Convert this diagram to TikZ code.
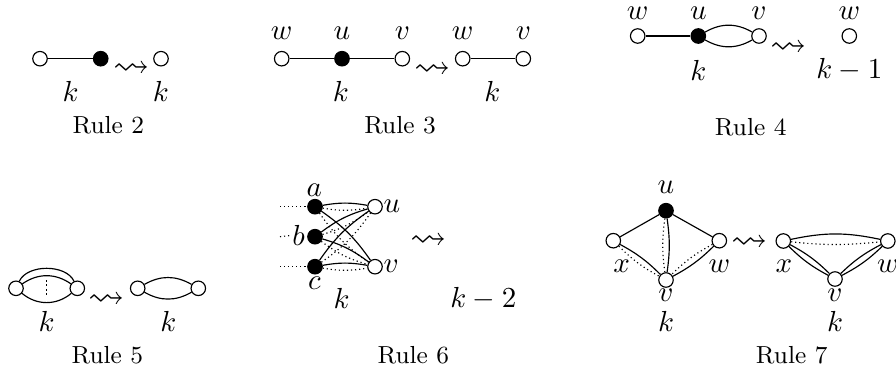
\documentclass[tikz,border=0pt]{standalone}
\usepackage{amssymb}
\usepackage{graphicx}
\newcommand{\sqarr}{\scalebox{1.25}{$\rightsquigarrow$}}
\begin{document}
\begin{tikzpicture}[x=0.3448pt,y=-0.3448pt,
  vtx/.style={circle,draw,fill=white,minimum size=5pt,inner sep=0pt},
  fvtx/.style={vtx,fill=black},
  lbl/.style={inner sep=0pt},
  rcap/.style={inner sep=0pt,font=\fontsize{8.5}{10}\selectfont},
  arr/.style={inner sep=0pt},
  dotl/.style={densely dotted}]
\useasboundingbox (0,0) rectangle (896,370);
% ---------------- Rule 2
\node[vtx] (r2a) at (40,58.7) {};
\node[fvtx] (r2b) at (100.7,58.7) {};
\node[vtx] (r2c) at (161,58.7) {};
\draw (r2a) -- (r2b);
\node[arr] (r2s) at (132,69.5) {\sqarr};
\node[lbl] (r2k1) at (70.7,91.7) {$k$};
\node[lbl] (r2k2) at (161,91.7) {$k$};
\node[rcap] (r2t) at (108.3,125) {Rule 2};
% ---------------- Rule 3
\node[vtx] (r3w) at (281.7,58.7) {};
\node[fvtx] (r3u) at (342,58.7) {};
\node[vtx] (r3v) at (402.3,58.7) {};
\node[vtx] (r3w2) at (462.7,58.7) {};
\node[vtx] (r3v2) at (523.3,58.7) {};
\draw (r3w) -- (r3u) -- (r3v);
\draw (r3w2) -- (r3v2);
\node[lbl] (r3lw) at (281.7,33.3) {$w$};
\node[lbl] (r3lu) at (342,33.3) {$u$};
\node[lbl] (r3lv) at (402.3,33.3) {$v$};
\node[lbl] (r3lw2) at (462.7,33.3) {$w$};
\node[lbl] (r3lv2) at (523.3,33.3) {$v$};
\node[arr] (r3s) at (433,70.5) {\sqarr};
\node[lbl] (r3k1) at (341,91.7) {$k$};
\node[lbl] (r3k2) at (492.3,91.7) {$k$};
\node[rcap] (r3t) at (400,125) {Rule 3};
% ---------------- Rule 4
\node[vtx] (r4w) at (637.7,36) {};
\node[fvtx] (r4u) at (698.3,36) {};
\node[vtx] (r4v) at (759,36) {};
\node[vtx] (r4w2) at (849.3,36) {};
\draw (r4w) -- (r4u);
\draw (r4u) to[out=30,in=150] (r4v);
\draw (r4u) to[out=-30,in=-150] (r4v);
\node[lbl] (r4lw) at (637.7,13.3) {$w$};
\node[lbl] (r4lu) at (698.3,13.3) {$u$};
\node[lbl] (r4lv) at (759,13.3) {$v$};
\node[lbl] (r4lw2) at (849.3,13.3) {$w$};
\node[arr] (r4s) at (789,49) {\sqarr};
\node[lbl] (r4k1) at (698.3,70) {$k$};
\node[lbl] (r4k2) at (849.3,70) {$k-1$};
\node[rcap] (r4t) at (750.7,127) {Rule 4};
% ---------------- Rule 5
\node[vtx] (r5a) at (16,288.3) {};
\node[vtx] (r5b) at (77.3,288.3) {};
\draw (r5a) to[out=65,in=115,looseness=0.89] (r5b);
\draw (r5a) to[out=35,in=145] (r5b);
\draw (r5a) to[out=-40,in=-140] (r5b);
\draw[dotl,line width=0.55pt] (46.7,280) -- (46.7,297);
\node[arr] (r5s) at (107,300.5) {\sqarr};
\node[vtx] (r5c) at (137.7,288.3) {};
\node[vtx] (r5d) at (198.3,288.3) {};
\draw (r5c) to[out=30,in=150] (r5d);
\draw (r5c) to[out=-30,in=-150] (r5d);
\node[lbl] (r5k1) at (46.7,321.7) {$k$};
\node[lbl] (r5k2) at (168.3,321.7) {$k$};
\node[rcap] (r5t) at (107.3,355) {Rule 5};
% ---------------- Rule 6
\node[fvtx] (r6a) at (315,206.7) {};
\node[fvtx] (r6b) at (315,236.7) {};
\node[fvtx] (r6c) at (315,266.7) {};
\node[vtx] (r6u) at (375,206.7) {};
\node[vtx] (r6v) at (375,266.7) {};
\foreach \p in {a,b,c}{
  \foreach \q in {u,v}{
    \draw (r6\p) to[bend left=10] (r6\q);
    \draw[dotl] (r6\p) to[bend right=10] (r6\q);
  }
}
\node[lbl] (r6la) at (314.3,190.7) {$a$};
\node[lbl] (r6lb) at (298.5,235.3) {$b$};
\node[lbl] (r6lc) at (314.3,283.3) {$c$};
\node[lbl,anchor=west] (r6lu) at (383,206.7) {$u$};
\node[lbl,anchor=west] (r6lv) at (383,266.7) {$v$};
\coordinate (r6ea) at (280,206.7);
\coordinate (r6eb) at (280,236.7);
\coordinate (r6ec) at (280,266.7);
\draw[dotl] (r6ea) -- (r6a);
\draw[dotl] (r6eb) -- (r6lb.west);
\draw[dotl] (r6ec) -- (r6c);
\node[arr] (r6s) at (428.3,242) {\sqarr};
\node[lbl] (r6k1) at (341.7,298.3) {$k$};
\node[lbl] (r6k2) at (483.3,298.3) {$k-2$};
\node[rcap] (r6t) at (413.3,355) {Rule 6};
% ---------------- Rule 7
\node[fvtx] (r7u) at (666,210.7) {};
\node[vtx] (r7x) at (613.3,240.7) {};
\node[vtx] (r7w) at (719.3,240.7) {};
\node[vtx] (r7v) at (666,280) {};
\draw (r7u) -- (r7x);
\draw (r7u) -- (r7w);
\foreach \p in {x,u,w}{
  \draw (r7\p) to[bend left=8] (r7v);
  \draw[dotl] (r7\p) to[bend right=8] (r7v);
}
\node[lbl] (r7lu) at (666,187.3) {$u$};
\node[lbl] (r7lx) at (621.7,266.7) {$x$};
\node[lbl] (r7lw) at (719.3,266.7) {$w$};
\node[lbl] (r7lv) at (666,295) {$v$};
\node[lbl] (r7k) at (666,321.7) {$k$};
\node[arr] (r7s) at (749.5,243.5) {\sqarr};
\node[vtx] (r7x2) at (783.3,241) {};
\node[vtx] (r7w2) at (887.8,241) {};
\node[vtx] (r7v2) at (835,279) {};
\draw (r7x2) to[bend left=12] (r7w2);
\draw[dotl] (r7x2) to[bend right=6] (r7w2);
\draw (r7x2) to[bend left=8] (r7v2);
\draw (r7x2) to[bend right=8] (r7v2);
\draw (r7v2) to[bend left=8] (r7w2);
\draw (r7v2) to[bend right=8] (r7w2);
\node[lbl] (r7lx2) at (784,266.7) {$x$};
\node[lbl] (r7lw2) at (888,266.7) {$w$};
\node[lbl] (r7lv2) at (835,295) {$v$};
\node[lbl] (r7k2) at (835,321.7) {$k$};
\node[rcap] (r7t) at (791.7,355) {Rule 7};
\end{tikzpicture}
\end{document}
